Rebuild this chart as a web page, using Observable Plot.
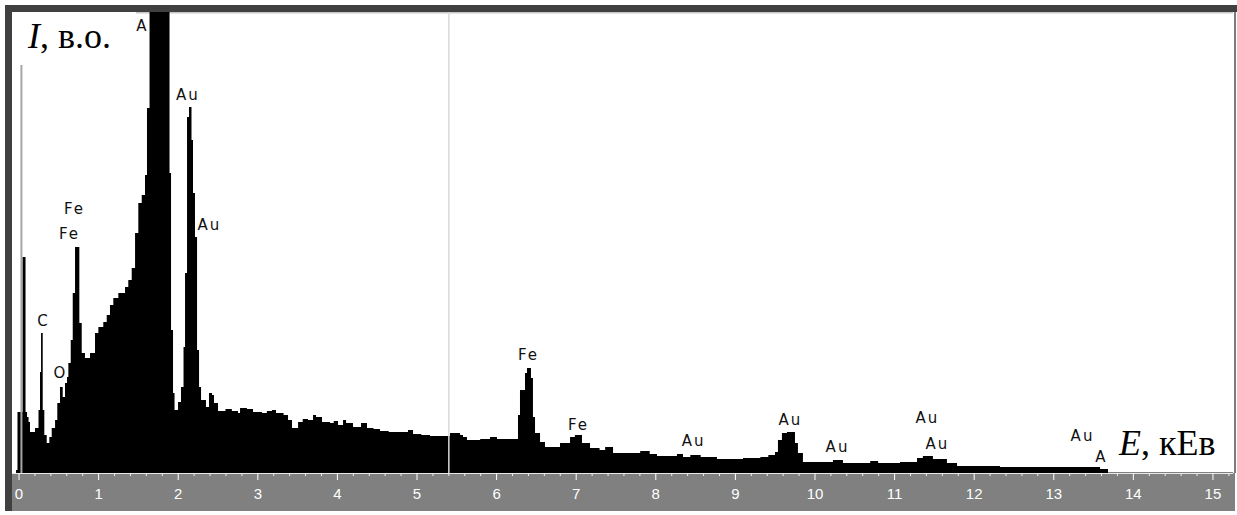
<!DOCTYPE html>
<html><head><meta charset="utf-8">
<script src="https://cdn.jsdelivr.net/npm/d3@7"></script>
<script src="https://cdn.jsdelivr.net/npm/@observablehq/plot@0.6"></script>
<style>
html,body{margin:0;padding:0;background:#fff;}
#chart svg{display:block;}
</style></head><body><div id="chart"></div>
<script>
// Spectrum channels: energy (keV) where each step starts, and intensity (arb. units)
const energies = [-0.082,-0.031,-0.013,0.050,0.088,0.107,0.126,0.144,0.207,0.251,0.270,0.283,0.304,0.324,0.354,0.387,0.417,0.459,0.487,0.521,0.555,0.584,0.609,0.626,0.656,0.681,0.710,0.764,0.794,0.835,0.898,0.961,1.003,1.065,1.108,1.149,1.191,1.254,1.338,1.379,1.422,1.464,1.505,1.548,1.589,1.614,1.646,1.897,1.916,1.941,1.960,2.004,2.041,2.073,2.092,2.117,2.142,2.173,2.192,2.217,2.243,2.268,2.293,2.355,2.393,2.431,2.456,2.506,2.600,2.680,2.758,2.783,2.870,2.946,3.060,3.120,3.185,3.235,3.330,3.386,3.436,3.512,3.570,3.637,3.700,3.738,3.813,3.914,3.960,4.014,4.077,4.115,4.202,4.303,4.378,4.460,4.541,4.650,4.755,4.893,4.956,5.060,5.170,5.300,5.421,5.547,5.584,5.634,5.800,5.923,6.011,6.263,6.275,6.300,6.363,6.388,6.438,6.463,6.489,6.552,6.614,6.803,6.929,6.990,7.079,7.180,7.300,7.370,7.469,7.810,7.930,8.021,8.272,8.348,8.440,8.570,8.775,9.102,9.320,9.420,9.504,9.541,9.591,9.654,9.755,9.792,9.855,10.232,10.358,10.700,10.800,11.074,11.288,11.362,11.488,11.664,11.791,12.331,13.588,15.258];
const counts = [0,3,61,216,61,56,51,41,45,63,101,140,63,38,30,36,45,53,70,86,76,90,96,110,133,180,226,150,120,115,120,140,146,151,158,168,175,180,186,193,205,240,270,278,298,365,520,300,143,80,63,71,86,126,200,356,366,333,280,236,123,86,73,66,80,78,70,62,64,62,60,65,64,61,60,62,63,60,58,53,45,51,54,53,58,56,51,50,52,48,53,50,46,50,45,44,42,41,41,43,39,38,37,37,40,38,36,33,34,36,34,34,58,83,100,105,95,56,40,31,26,30,36,38,30,25,23,26,20,22,19,17,19,16,18,16,14,15,16,18,21,33,40,41,30,20,11,13,10,12,10,11,15,17,14,10,7,6,4,4];

// Peak labels
const peakNames    = ["A","Au","Fe","Fe","Au","C","O","Fe","Fe","Au","Au","Au","Au","Au","Au","A"];
const peakEnergies = [1.551,2.120,0.697,0.635,2.393,0.306,0.521,6.400,7.029,8.474,9.692,10.283,11.413,11.538,13.361,13.599];
const peakHeights  = [447,378,264,239,248,152,100,118,48,32,53,26,55,29,37,16];

// Axis ticks and labels
const majorTicks = [0,1,2,3,4,5,6,7,8,9,10,11,12,13,14,15];
const tickLabels = ["0","1","2","3","4","5","6","7","8","9","10","11","12","13","14","15"];
const minorTicks = d3.range(0, 77).map(i => i / 5).filter(v => v % 1 !== 0);

// Markers
const markerEnergy = 0.03, markerHeight = 408;
const cursorEnergy = 5.40;

const xDomain = [-0.082, 15.258];
const yDomain = [0, 461];

const yTitle = ["I", ", в.о."];
const xTitle = ["E", ", кЕв"];

function chrome(index, scales, values, dims) {
  const {width, height, marginLeft, marginTop, marginRight, marginBottom} = dims;
  const bottom = height - marginBottom;
  const g = d3.create("svg:g");
  g.append("rect").attr("x", 5).attr("y", 5).attr("width", width - 5).attr("height", marginTop - 5).attr("fill", "#404040");
  g.append("rect").attr("x", 5).attr("y", 5).attr("width", marginLeft - 5).attr("height", height - 9).attr("fill", "#404040");
  g.append("rect").attr("x", marginLeft).attr("y", bottom).attr("width", width - marginLeft - 2).attr("height", marginBottom - 4).attr("fill", "#808080");
  g.append("rect").attr("x", width - marginRight + 1).attr("y", marginTop).attr("width", 2).attr("height", bottom - marginTop).attr("fill", "#7a7a7a");
  g.append("rect").attr("x", marginLeft).attr("y", marginTop).attr("width", width - marginLeft - marginRight).attr("height", 1.5).attr("fill", "#c8c8c8");
  return g.node();
}

function titles(index, scales, values, dims) {
  const {width, height, marginLeft, marginTop, marginRight, marginBottom} = dims;
  const bottom = height - marginBottom;
  const g = d3.create("svg:g").attr("text-anchor", "start");
  g.append("rect").attr("x", marginLeft).attr("y", marginTop).attr("width", 124).attr("height", 53).attr("fill", "#fff");
  g.append("rect").attr("x", width - marginRight - 125).attr("y", bottom - 55).attr("width", 125).attr("height", 54.5).attr("fill", "#fff");
  const t1 = g.append("text").attr("x", 28).attr("y", 48).attr("text-anchor", "start").attr("font-family", "Liberation Serif, Times New Roman, serif").attr("font-size", 36).attr("fill", "#000");
  t1.append("tspan").attr("font-style", "italic").text(yTitle[0]);
  t1.append("tspan").text(yTitle[1]);
  const t2 = g.append("text").attr("x", 1119).attr("y", 455).attr("text-anchor", "start").attr("font-family", "Liberation Serif, Times New Roman, serif").attr("font-size", 36).attr("fill", "#000");
  t2.append("tspan").attr("font-style", "italic").text(xTitle[0]);
  t2.append("tspan").text(xTitle[1]);
  return g.node();
}

const chart = Plot.plot({
  width: 1237, height: 515,
  marginTop: 12, marginLeft: 12, marginRight: 4, marginBottom: 42,
  style: {background: "#fff", fontFamily: "Liberation Sans, Arial, sans-serif"},
  x: {domain: xDomain, axis: null},
  y: {domain: yDomain, axis: null},
  marks: [
    chrome,
    Plot.text(peakNames, {x: peakEnergies, y: peakHeights, text: peakNames, fill: "#111", fontSize: 15, fontFamily: "DejaVu Sans", textAnchor: "middle", lineAnchor: "middle"}),
    Plot.areaY(counts, {x: energies, y: counts, curve: "step-after", fill: "#000", clip: true}),
    Plot.ruleX([markerEnergy], {y1: 0, y2: markerHeight, stroke: "#a6a6a6", strokeWidth: 2}),
    Plot.ruleX([cursorEnergy], {stroke: "#d9d9d9", strokeWidth: 1.5}),
    titles,
    Plot.ruleY([0], {stroke: "#e8e8e8"}),
    Plot.axisX({ticks: minorTicks, tickSize: 3, tickFormat: () => "", color: "#eeeeee"}),
    Plot.axisX({ticks: majorTicks, tickSize: 7, tickPadding: 8, color: "#ffffff", fontSize: 15, tickFormat: d => tickLabels[majorTicks.indexOf(d)]})
  ]
});
d3.select(chart).selectAll('g[aria-label="text"] text').attr("letter-spacing", "2px");
document.getElementById("chart").appendChild(chart);
</script></body></html>
